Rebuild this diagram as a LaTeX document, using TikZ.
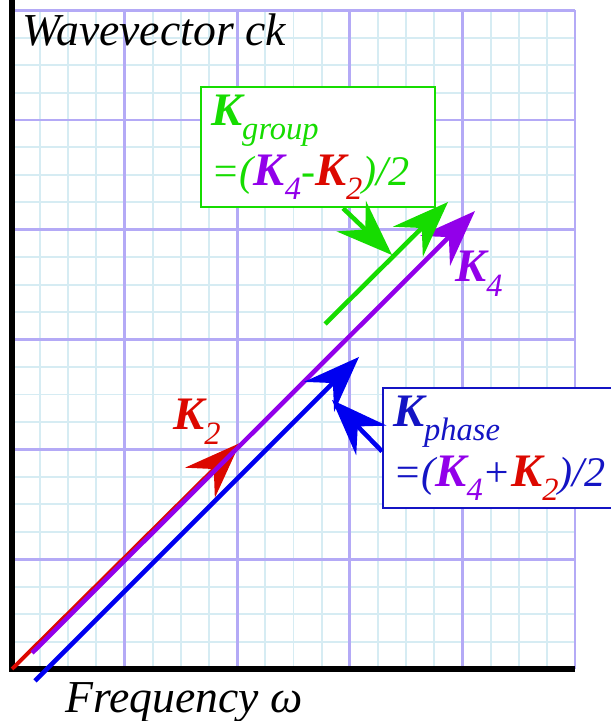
\documentclass[tikz,border=0pt]{standalone}
\usepackage{fontspec}
\setmainfont{Liberation Serif}
\usetikzlibrary{arrows.meta}

\definecolor{gridminor}{HTML}{D6ECF3}
\definecolor{gridmajor}{HTML}{B4AAF6}
\definecolor{kred}{HTML}{DC0800}
\definecolor{kpurple}{HTML}{9200EA}
\definecolor{kgreen}{HTML}{16DC00}
\definecolor{kblue}{HTML}{0000F0}
\definecolor{kdarkblue}{HTML}{1414C4}

% lowered subscript, upright weight
\newcommand{\lowsub}[1]{\raisebox{-8pt}{\fontsize{18.5}{18.5}\selectfont\mdseries #1}}
\newcommand{\kvec}[1]{{\fontsize{26.5}{26.5}\selectfont\bfseries K}\lowsub{#1}}

\begin{document}
\begin{tikzpicture}[x=2.252cm, y=2.196cm,
    minor/.style={gridminor, line width=1.1pt},
    major/.style={gridmajor, line width=1.6pt},
    vec/.style={line width=2.6pt, -{Stealth[length=32pt, width=24pt, inset=11pt]}},
    lbl/.style={font=\fontsize{26}{33}\selectfont\itshape, inner sep=0pt, anchor=base west},
    infobox/.style={draw=#1, text=#1, fill=white, line width=1.3pt, anchor=north west, align=left,
        font=\fontsize{24}{34}\selectfont\itshape, inner xsep=0.2cm, minimum height=2.4cm}]
    \useasboundingbox (-0.1066,-0.4736) rectangle (5.3197,6.0929);

    % Grid
    \draw[minor] (0,0) grid[step=0.25] (5,6);
    \draw[major] (0,0) grid[step=1] (5,6);

    % Axes
    \draw[line width=3.2pt, black] (0,6.0929) -- (0,0) -- (5,0);
    \node[lbl] (ylabel) at (0.089,5.683) {Wavevector ck};
    \node[lbl] (xlabel) at (0.471,-0.392) {Frequency ω};

    % Vector end points
    \coordinate (O) at (0,0);
    \coordinate (K2) at (2.025,2.058);
    \coordinate (K4start) at (0.178,0.146);
    \coordinate (K4) at (4.112,4.171);
    \coordinate (Pstart) at (0.204,-0.109);
    \coordinate (Kphase) at (3.082,2.842);
    \coordinate (Gstart) at (2.780,3.142);
    \coordinate (Kgroup) at (3.872,4.253);
    \coordinate (gtip) at (3.375,3.770);
    \coordinate (ptip) at (2.842,2.450);

    % Vectors
    \draw[vec, kred, line width=2.2pt] (O) -- (K2);
    \draw[vec, kpurple] (K4start) -- (K4);
    \draw[vec, kblue] (Pstart) -- (Kphase);
    \draw[vec, kgreen] (Gstart) -- (Kgroup);

    % Labels
    \node[lbl, kred] (ktwolabel) at (1.430,2.177) {\kvec{2}};
    \node[lbl, kpurple] (kfourlabel) at (3.934,3.525) {\kvec{4}};

    % Boxes
    \node[infobox=kgreen, text width=4.28cm] (kgroupbox) at (1.670,5.310)
        {\kvec{group}\\\mbox{=({\color{kpurple}\kvec{4}}-{\color{kred}\kvec{2}})/2}};
    \node[infobox=kdarkblue, text width=4.6cm] (kphasebox) at (3.286,2.568)
        {\kvec{phase}\\\mbox{=({\color{kpurple}\kvec{4}}+{\color{kred}\kvec{2}})/2}};

    % Pointers
    \draw[vec, kgreen] ([xshift=2.86cm]kgroupbox.south west) -- (gtip);
    \draw[vec, kblue] ([yshift=1.16cm]kphasebox.south west) -- (ptip);
\end{tikzpicture}
\end{document}
